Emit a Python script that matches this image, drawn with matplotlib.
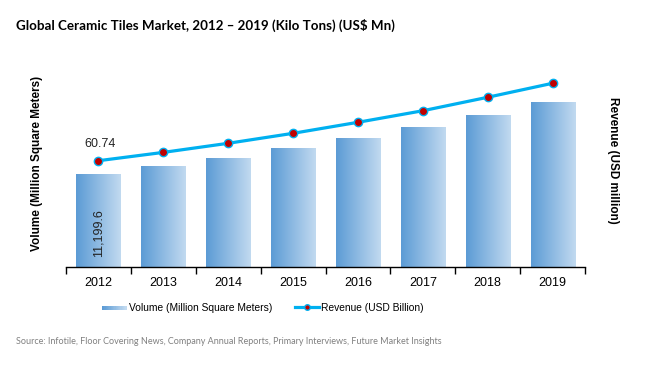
import numpy as np
import matplotlib
matplotlib.use("Agg")
import matplotlib.pyplot as plt
from matplotlib.colors import LinearSegmentedColormap
from matplotlib.patches import Rectangle
from matplotlib.lines import Line2D
from matplotlib.legend_handler import HandlerBase

years = ["2012", "2013", "2014", "2015", "2016", "2017", "2018", "2019"]
volume = [11199.6, 12160, 13125, 14330, 15530, 16860, 18300, 19870]
revenue = [60.74, 65.5, 70.7, 76.4, 82.7, 89.3, 97.0, 105.0]

title = "Global Ceramic Tiles Market, 2012 \u2013 2019 (Kilo Tons) (US$ Mn)"
left_label = "Volume (Million Square Meters)"
right_label = "Revenue (USD million)"
bar_legend = "Volume (Million Square Meters)"
line_legend = "Revenue (USD Billion)"
source = "Source: Infotile, Floor Covering News, Company Annual Reports, Primary Interviews, Future Market Insights"

c_left = "#5B9BD5"
c_right = "#C2DAF0"
cmap = LinearSegmentedColormap.from_list("g", [c_left, c_right])
line_color = "#00B0F0"
marker_color = "#C00000"

fig = plt.figure(figsize=(6.5, 3.7), dpi=100)
ax = fig.add_axes([66/650, 103/370, 519/650, 207/370])

x = np.arange(len(years))
bars = ax.bar(x, volume, width=0.68, color="none", edgecolor="none", zorder=2)
grad = np.linspace(0, 1, 256).reshape(1, -1)
for b in bars:
    x0, y0 = b.get_x(), b.get_y()
    w, h = b.get_width(), b.get_height()
    im = ax.imshow(grad, cmap=cmap, aspect="auto", extent=[x0, x0 + w, y0, y0 + h],
                   zorder=2, interpolation="bilinear")
    im.set_clip_path(b)
ax.set_xlim(-0.5, 7.5)
ax.set_ylim(0, 25000)

for s in ["top", "left", "right"]:
    ax.spines[s].set_visible(False)
ax.spines["bottom"].set_color("black")
ax.spines["bottom"].set_linewidth(1.0)
ax.set_yticks([])
ax.set_xticks(x)
ax.set_xticklabels(years, fontsize=9, family="Liberation Sans")
ax.tick_params(axis="x", which="major", length=0, pad=7)
ax.set_xticks(np.arange(-0.5, 8.0, 1.0), minor=True)
ax.tick_params(axis="x", which="minor", length=5, width=1.0, color="black")

ax.text(0, volume[0] * 0.365, "11,199.6", rotation=90, ha="center", va="center",
        fontsize=9, family="Liberation Sans", color="#222222", zorder=3)

ax2 = ax.twinx()
ax2.set_ylim(0, 118.3)
ax2.set_yticks([])
for s in ["top", "left", "right", "bottom"]:
    ax2.spines[s].set_visible(False)
ax2.plot(x, revenue, color=line_color, lw=2.3, marker="o", markersize=6,
         markerfacecolor=marker_color, markeredgecolor=line_color, markeredgewidth=1.0,
         zorder=4)
ax2.annotate("60.74", (0, revenue[0]), xytext=(1, 8), textcoords="offset points",
             ha="center", va="bottom", fontsize=9, family="Liberation Sans", color="#222222")

fig.text(37/650, 1 - 163/370, left_label, rotation=90, ha="center", va="center",
         fontsize=8.5, fontweight="bold", family="Liberation Sans")
fig.text(613/650, 1 - 160/370, right_label, rotation=-90, ha="center", va="center",
         fontsize=8.5, fontweight="bold", family="Liberation Sans")

fig.text(16/650, 1 - 25/370, title, ha="left", va="center", fontsize=9.6,
         fontweight="bold", family="Lato")
fig.text(16/650, 1 - 342/370, source, ha="left", va="center", fontsize=6.5,
         color="#808080", family="Lato")


class GradHandler(HandlerBase):
    def create_artists(self, legend, orig_handle, xdescent, ydescent, width, height,
                       fontsize, trans):
        n = 20
        arts = []
        for i in range(n):
            r = Rectangle((-xdescent + width * i / n, -ydescent + height * 0.2),
                          width / n + 0.3, height * 0.55,
                          facecolor=cmap(i / (n - 1)), edgecolor="none", transform=trans)
            arts.append(r)
        return arts


bar_handle = Rectangle((0, 0), 1, 1)
line_handle = Line2D([], [], color=line_color, lw=2.3, marker="o", markersize=4,
                     markerfacecolor=marker_color, markeredgecolor=line_color)
fig.legend([bar_handle, line_handle], [bar_legend, line_legend],
           handler_map={Rectangle: GradHandler()},
           loc="center", bbox_to_anchor=(263/650, 1 - 308/370), ncol=2, frameon=False,
           prop={"family": "Liberation Sans", "size": 7.4}, handlelength=2.4,
           handletextpad=0.2, columnspacing=2.2)

fig.savefig("out.png", dpi=100)
